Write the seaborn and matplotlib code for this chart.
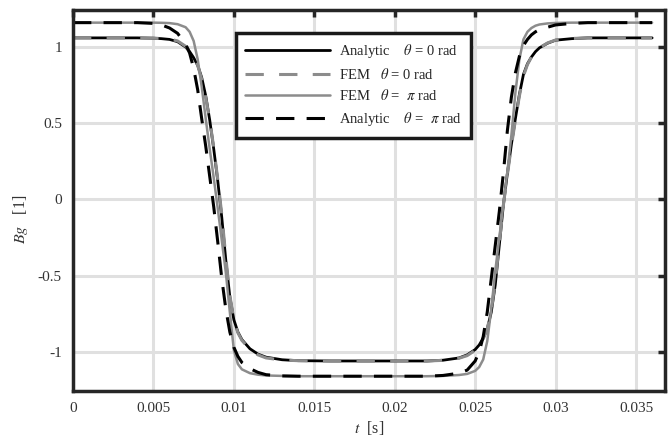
import numpy as np
import pandas as pd
import matplotlib
matplotlib.use("Agg")
import matplotlib.pyplot as plt
import seaborn as sns

# ---- data (time in ms) ----
t_ms = [0, 2, 4, 5, 5.5, 6, 6.5, 7, 7.25, 7.5, 7.75, 8, 8.25, 8.5, 8.75, 9,
        9.25, 9.5, 9.75, 10, 10.25, 10.5, 11, 11.5, 12, 13, 14, 16, 18, 20,
        22, 23, 24, 24.5, 25, 25.25, 25.5, 25.75, 26, 26.25, 26.5, 26.75, 27,
        27.25, 27.5, 27.75, 28, 28.25, 28.5, 28.75, 29, 29.5, 30, 31, 32, 34, 36]

analytic_0 = [1.06, 1.06, 1.06, 1.058, 1.055, 1.05, 1.035, 1.0, 0.97, 0.93, 0.88,
              0.80, 0.68, 0.52, 0.33, 0.12, -0.12, -0.40, -0.64, -0.79, -0.87,
              -0.92, -0.98, -1.015, -1.035, -1.052, -1.058, -1.06, -1.06, -1.06,
              -1.06, -1.055, -1.04, -1.02, -0.985, -0.955, -0.91, -0.85, -0.74,
              -0.56, -0.30, -0.04, 0.17, 0.36, 0.53, 0.69, 0.82, 0.89, 0.935,
              0.97, 0.995, 1.025, 1.045, 1.055, 1.06, 1.06, 1.06]

fem_0 = [1.06, 1.06, 1.06, 1.058, 1.056, 1.052, 1.04, 1.005, 0.975, 0.935, 0.88,
         0.79, 0.67, 0.52, 0.34, 0.13, -0.10, -0.38, -0.63, -0.79, -0.875,
         -0.925, -0.985, -1.02, -1.04, -1.054, -1.058, -1.06, -1.06, -1.06,
         -1.06, -1.056, -1.042, -1.025, -0.99, -0.96, -0.915, -0.85, -0.73,
         -0.54, -0.29, -0.04, 0.16, 0.35, 0.52, 0.68, 0.81, 0.885, 0.935,
         0.97, 0.995, 1.027, 1.046, 1.056, 1.06, 1.06, 1.06]

fem_pi = [1.16, 1.16, 1.16, 1.16, 1.159, 1.157, 1.15, 1.13, 1.10, 1.04, 0.92,
          0.74, 0.53, 0.33, 0.14, -0.06, -0.27, -0.48, -0.74, -0.99, -1.08,
          -1.115, -1.14, -1.15, -1.155, -1.158, -1.16, -1.16, -1.16, -1.16,
          -1.16, -1.158, -1.152, -1.145, -1.125, -1.10, -1.05, -0.93, -0.72,
          -0.47, -0.25, -0.04, 0.18, 0.42, 0.70, 0.92, 1.05, 1.10, 1.125,
          1.14, 1.148, 1.155, 1.158, 1.16, 1.16, 1.16, 1.16]

analytic_pi = [1.16, 1.16, 1.16, 1.155, 1.145, 1.125, 1.09, 1.02, 0.96, 0.86, 0.72,
               0.53, 0.35, 0.15, -0.05, -0.28, -0.52, -0.72, -0.87, -0.97, -1.03,
               -1.07, -1.11, -1.135, -1.15, -1.158, -1.16, -1.16, -1.16, -1.16,
               -1.16, -1.155, -1.14, -1.12, -1.06, -1.00, -0.90, -0.74, -0.52,
               -0.30, -0.08, 0.17, 0.45, 0.67, 0.83, 0.94, 1.01, 1.05, 1.08,
               1.10, 1.115, 1.13, 1.145, 1.155, 1.16, 1.16, 1.16]

labels = [r"Analytic    $\theta$ = 0 rad",
          r"FEM   $\theta$ = 0 rad",
          r"FEM   $\theta$ =  $\pi$ rad",
          r"Analytic    $\theta$ =  $\pi$ rad"]

xticks = [0, 0.005, 0.01, 0.015, 0.02, 0.025, 0.03, 0.035]
xtick_labels = ["0", "0.005", "0.01", "0.015", "0.02", "0.025", "0.03", "0.035"]
yticks = [-1, -0.5, 0, 0.5, 1]
ytick_labels = ["-1", "-0.5", "0", "0.5", "1"]

t = np.array(t_ms) * 1e-3

sns.set_theme(style="white")
plt.rcParams["font.family"] = ["Liberation Serif", "DejaVu Serif"]
plt.rcParams["mathtext.fontset"] = "stix"

fig = plt.figure(figsize=(6.72, 4.4), dpi=100)
ax = fig.add_axes([73 / 672, 49 / 440, 592 / 672, 381 / 440])

ax.grid(True, color="#e0e0e0", linewidth=2.2)
ax.set_axisbelow(True)

series = [
    (analytic_0, "black", "-", 2.0),
    (fem_0, "#8c8c8c", (0, (6, 5)), 2.2),
    (fem_pi, "#8c8c8c", "-", 1.8),
    (analytic_pi, "black", (0, (6, 4)), 2.2),
]
for (vals, col, ls, lw), lab in zip(series, labels):
    sns.lineplot(x=t, y=vals, ax=ax, color=col, linestyle=ls, linewidth=lw,
                 label=lab, estimator=None, sort=False)

ax.set_xlim(0, 0.0368)
ax.set_ylim(-1.257, 1.243)
ax.set_xticks(xticks)
ax.set_xticklabels(xtick_labels)
ax.set_yticks(yticks)
ax.set_yticklabels(ytick_labels)
ax.tick_params(direction="in", length=5, width=2.5, top=True, right=True,
               labelsize=11, colors="#262626", pad=8)
for lab in ax.get_xticklabels() + ax.get_yticklabels():
    lab.set_color("#333333")
for sp in ax.spines.values():
    sp.set_linewidth(2.5)
    sp.set_color("#262626")

ax.set_xlabel(r"$t$  [s]", fontsize=11.5, labelpad=3, color="#333333")
ax.set_ylabel(r"$Bg$   [1]", fontsize=11.5, color="#333333")
ax.yaxis.set_label_coords(-0.072, 0.45)

leg = ax.legend(loc="upper left", bbox_to_anchor=(0.275, 0.94), borderaxespad=0,
                fontsize=10.5, handlelength=5.8, handletextpad=0.6,
                labelspacing=0.45, fancybox=False, framealpha=1,
                edgecolor="#1a1a1a", borderpad=0.65)
leg.get_frame().set_linewidth(2.5)

fig.savefig("out.png", dpi=100)
